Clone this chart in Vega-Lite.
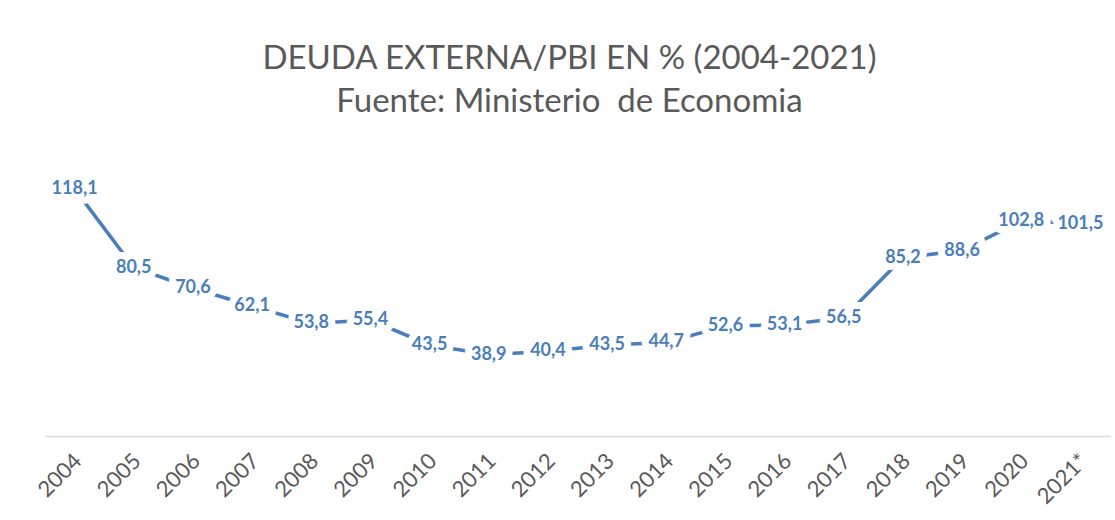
{
  "$schema": "https://vega.github.io/schema/vega-lite/v6.json",
  "width": 1065,
  "height": 293,
  "autosize": {"type": "none"},
  "padding": {"left": 45, "top": 143, "right": 5, "bottom": 84},
  "background": "white",
  "config": {
    "view": {"stroke": null},
    "locale": {"number": {"decimal": ",", "thousands": ".", "grouping": [3], "currency": ["", ""]}},
    "font": "Lato"
  },
  "title": {
    "text": ["DEUDA EXTERNA/PBI EN % (2004-2021)", "Fuente: Ministerio\u00a0 de Economia"],
    "font": "Lato",
    "fontSize": 33,
    "fontWeight": "normal",
    "color": "#595959",
    "lineHeight": 43,
    "anchor": "middle",
    "dx": -8,
    "offset": 24
  },
  "data": {
    "values": [
      {"year": "2004", "value": 118.1},
      {"year": "2005", "value": 80.5},
      {"year": "2006", "value": 70.6},
      {"year": "2007", "value": 62.1},
      {"year": "2008", "value": 53.8},
      {"year": "2009", "value": 55.4},
      {"year": "2010", "value": 43.5},
      {"year": "2011", "value": 38.9},
      {"year": "2012", "value": 40.4},
      {"year": "2013", "value": 43.5},
      {"year": "2014", "value": 44.7},
      {"year": "2015", "value": 52.6},
      {"year": "2016", "value": 53.1},
      {"year": "2017", "value": 56.5},
      {"year": "2018", "value": 85.2},
      {"year": "2019", "value": 88.6},
      {"year": "2020", "value": 102.8},
      {"year": "2021*", "value": 101.5}
    ]
  },
  "encoding": {
    "x": {
      "field": "year",
      "type": "ordinal",
      "sort": null,
      "scale": {"type": "point", "padding": 0.5},
      "axis": {
        "title": null,
        "labelAngle": -45,
        "labelFont": "Lato",
        "labelFontSize": 22,
        "labelColor": "#595959",
        "labelPadding": 14,
        "labelOffset": -4,
        "ticks": false,
        "domainColor": "#d9d9d9",
        "domainWidth": 1.5,
        "grid": false
      }
    },
    "y": {
      "field": "value",
      "type": "quantitative",
      "scale": {"domain": [0, 140], "nice": false},
      "axis": null
    }
  },
  "layer": [
    {
      "mark": {"type": "line", "color": "#4a7ebb", "strokeWidth": 3.5}
    },
    {
      "mark": {"type": "text", "font": "Lato", "fontSize": 18, "fontWeight": "bold", "stroke": "white", "strokeWidth": 14, "strokeJoin": "round", "color": "white"},
      "encoding": {"text": {"field": "value", "type": "quantitative", "format": ".1f"}}
    },
    {
      "mark": {"type": "text", "font": "Lato", "fontSize": 18, "fontWeight": "bold", "color": "#4a7ebb"},
      "encoding": {"text": {"field": "value", "type": "quantitative", "format": ".1f"}}
    }
  ]
}
